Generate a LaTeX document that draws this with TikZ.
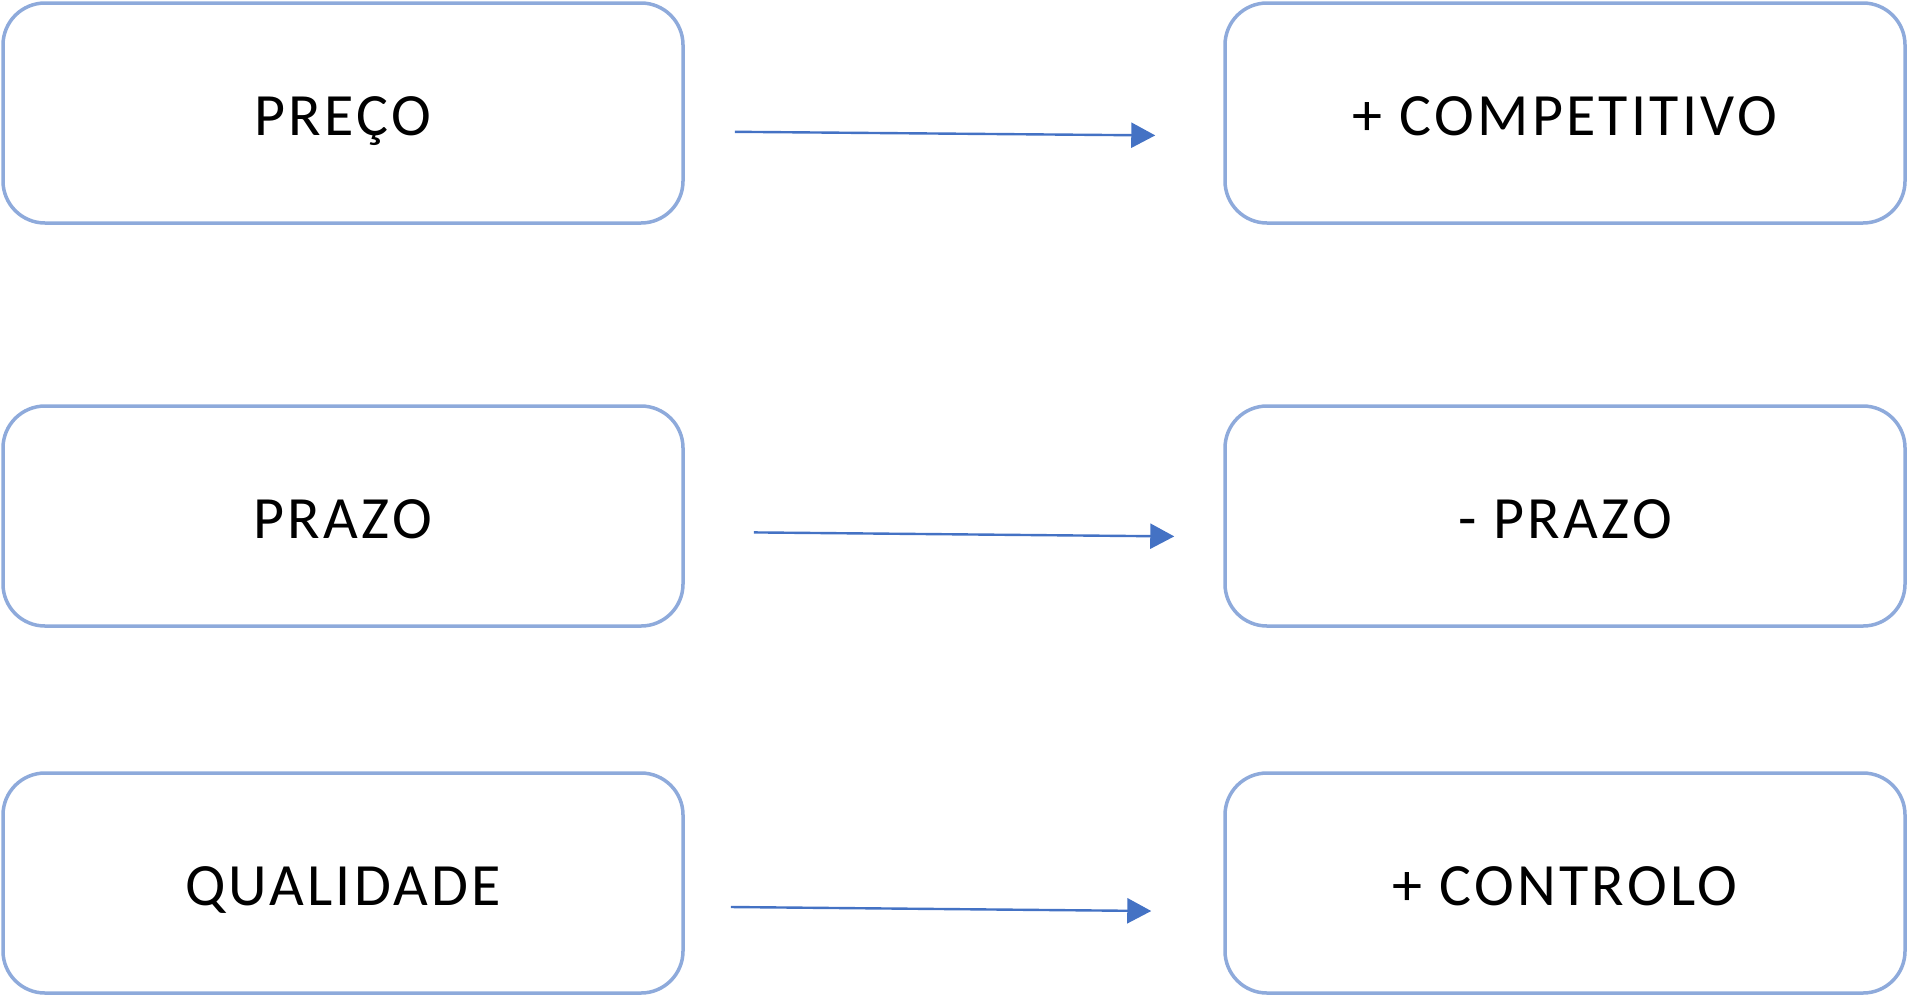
\documentclass[tikz,border=0pt]{standalone}
\usepackage{fontspec}
\setmainfont{Carlito}[LetterSpace=5.5]
\usetikzlibrary{arrows.meta}

\definecolor{boxblue}{HTML}{8EAADB}
\definecolor{arrowblue}{HTML}{4472C4}

\tikzset{
  box/.style={draw=boxblue, line width=1.75pt, rounded corners=21pt, minimum width=340pt, minimum height=110pt, font=\fontsize{30}{36}\selectfont, inner sep=0pt, text height=22.3pt, text depth=0pt},
  arrow/.style={draw=arrowblue, line width=1.2pt, -{Triangle[length=12pt,width=12.5pt]}}
}

\begin{document}
\begin{tikzpicture}[x=0.5pt,y=-0.5pt]
\useasboundingbox (0,0) rectangle (1909,997);
\node[box] (preco) at (343,113) {PREÇO};
\node[box] (comp) at (1565,113) {+ COMPETITIVO};
\node[box] (prazo) at (343,516) {PRAZO};
\node[box] (menos) at (1565,516) {- PRAZO};
\node[box] (qual) at (343,883) {QUALIDADE};
\node[box] (ctrl) at (1565,883) {+ CONTROLO};
\draw[arrow] ([xshift=25pt,yshift=-9.4pt]preco.east) -- ([xshift=-34pt,yshift=-11.2pt]comp.west);
\draw[arrow] ([xshift=34.5pt,yshift=-8.2pt]prazo.east) -- ([xshift=-24.5pt,yshift=-10.2pt]menos.west);
\draw[arrow] ([xshift=23pt,yshift=-12pt]qual.east) -- ([xshift=-36pt,yshift=-14pt]ctrl.west);
\end{tikzpicture}
\end{document}
